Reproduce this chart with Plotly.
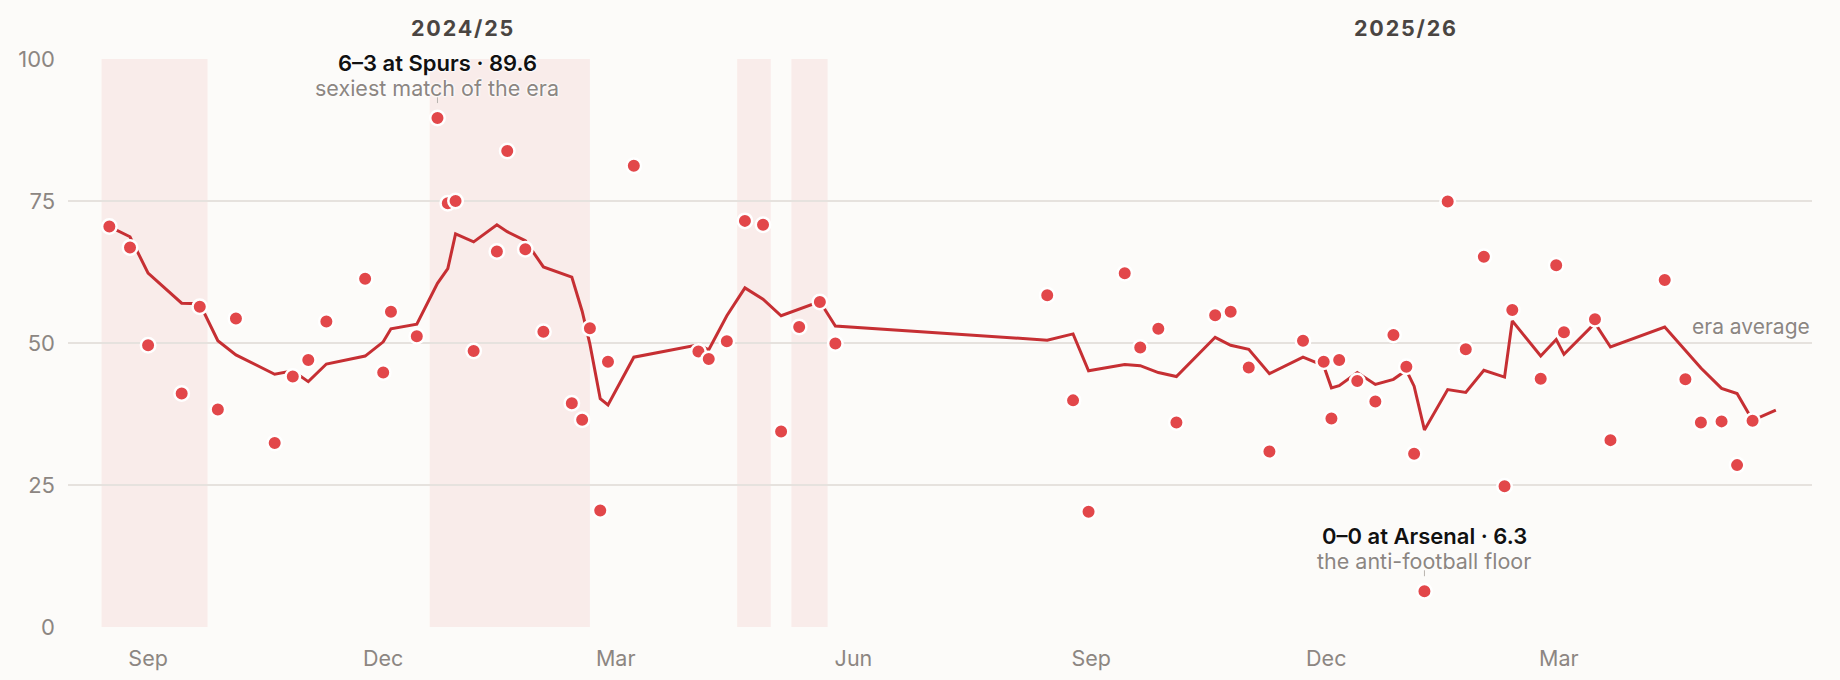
import plotly.graph_objects as go

# ---------------- data ----------------
match_dates = [
    # 2024/25
    "2024-08-17", "2024-08-25", "2024-09-01", "2024-09-14", "2024-09-21", "2024-09-28",
    "2024-10-05", "2024-10-20", "2024-10-27", "2024-11-02", "2024-11-09", "2024-11-24",
    "2024-12-01", "2024-12-04", "2024-12-14", "2024-12-22", "2024-12-26", "2024-12-29",
    "2025-01-05", "2025-01-14", "2025-01-18", "2025-01-25", "2025-02-01", "2025-02-12",
    "2025-02-16", "2025-02-19", "2025-02-23", "2025-02-26", "2025-03-08", "2025-04-02",
    "2025-04-06", "2025-04-13", "2025-04-20", "2025-04-27", "2025-05-04", "2025-05-11",
    "2025-05-19", "2025-05-25",
    # 2025/26
    "2025-08-15", "2025-08-25", "2025-08-31", "2025-09-14", "2025-09-20", "2025-09-27",
    "2025-10-04", "2025-10-19", "2025-10-25", "2025-11-01", "2025-11-09", "2025-11-22",
    "2025-11-30", "2025-12-03", "2025-12-06", "2025-12-13", "2025-12-20", "2025-12-27",
    "2026-01-01", "2026-01-04", "2026-01-08", "2026-01-17", "2026-01-24", "2026-01-31",
    "2026-02-08", "2026-02-11", "2026-02-22", "2026-02-28", "2026-03-03", "2026-03-15",
    "2026-03-21", "2026-04-11", "2026-04-19", "2026-04-25", "2026-05-03", "2026-05-09",
    "2026-05-15",
]
match_scores = [
    70.5, 66.8, 49.6, 41.1, 56.4, 38.3, 54.3, 32.4, 44.1, 47.0, 53.8, 61.3,
    44.8, 55.5, 51.2, 89.6, 74.6, 75.0, 48.6, 66.1, 83.8, 66.5, 52.0, 39.4,
    36.5, 52.6, 20.5, 46.7, 81.2, 48.5, 47.2, 50.3, 71.5, 70.8, 34.4, 52.8,
    57.2, 49.9,
    58.4, 39.9, 20.3, 62.3, 49.2, 52.5, 36.0, 54.9, 55.5, 45.7, 30.9, 50.4,
    46.7, 36.7, 47.0, 43.3, 39.7, 51.4, 45.8, 30.5, 6.3, 74.9, 48.9, 65.2,
    24.8, 55.8, 43.7, 63.7, 51.9, 54.2, 32.9, 61.1, 43.6, 36.0, 36.2, 28.5,
    36.3,
]

trend_dates = match_dates + ["2026-05-24"]
trend_values = [
    70.5, 68.7, 62.3, 57.0, 56.9, 50.4, 47.9, 44.5, 45.1, 43.2, 46.3, 47.7,
    50.2, 52.5, 53.3, 60.5, 63.1, 69.2, 67.8, 70.8, 69.6, 68.0, 63.4, 61.6,
    55.6, 49.8, 40.2, 39.1, 47.5, 49.7, 48.8, 54.8, 59.7, 57.7, 54.8, 56.0,
    57.3, 53.0,
    50.5, 51.6, 45.1, 46.2, 46.0, 44.8, 44.1, 51.0, 49.6, 48.9, 44.6, 47.5,
    46.0, 42.1, 42.5, 44.8, 42.7, 43.6, 45.2, 42.4, 34.7, 41.8, 41.3, 45.2,
    44.0, 53.9, 47.7, 50.6, 48.0, 53.5, 49.3, 52.8, 48.7, 45.6, 42.0, 41.1,
    36.4, 38.2,
]

era_average = 50.0

band_starts = ["2024-08-14", "2024-12-19", "2025-04-17", "2025-05-08"]
band_ends = ["2024-09-24", "2025-02-19", "2025-04-30", "2025-05-22"]

season_labels = ["2024/25", "2025/26"]
season_centres = ["2025-01-01", "2026-01-01"]

x_tick_vals = ["2024-09-01", "2024-12-01", "2025-03-01", "2025-06-01",
               "2025-09-01", "2025-12-01", "2026-03-01"]
x_tick_text = ["Sep", "Dec", "Mar", "Jun", "Sep", "Dec", "Mar"]
y_tick_vals = [0, 25, 50, 75, 100]

highlights = [
    ("2024-12-22", "6–3 at Spurs · 89.6", "sexiest match of the era"),
    ("2026-01-08", "0–0 at Arsenal · 6.3", "the anti-football floor"),
]

# ---------------- style ----------------
BG = "#fcfbf9"
GRID = "#e6e2de"
AVG_LINE = "#c3beb9"
DOT = "#e2474a"
TREND = "#c62f33"
BAND = "#f9ecea"
MUTED = "#8c8682"
FONT = "Inter, Roboto, 'Noto Sans', sans-serif"
HALO = "0 0 2px #ffffff, 0 0 2px #ffffff, 0 0 3px #ffffff, 0 0 3px #ffffff"

fig = go.Figure()

fig.add_trace(go.Scatter(
    x=trend_dates, y=trend_values, mode="lines",
    line=dict(color=TREND, width=3),
    hoverinfo="skip", showlegend=False,
))
fig.add_trace(go.Scatter(
    x=match_dates, y=match_scores, mode="markers",
    marker=dict(color=DOT, size=14.5, line=dict(color="#ffffff", width=2.5)),
    showlegend=False,
))

shapes = []
for s, e in zip(band_starts, band_ends):
    shapes.append(dict(type="rect", xref="x", yref="y", x0=s, x1=e, y0=0, y1=100,
                       fillcolor=BAND, line=dict(width=0), layer="below"))
shapes.append(dict(type="line", xref="paper", yref="y", x0=0, x1=1,
                   y0=era_average, y1=era_average,
                   line=dict(color=AVG_LINE, width=1.6), layer="between"))

annotations = []
for lab, cx in zip(season_labels, season_centres):
    annotations.append(dict(
        x=cx, xref="x", y=1, yref="paper", yanchor="middle", yshift=31,
        text=f"<span style='letter-spacing:1.8px'>{lab}</span>", showarrow=False,
        font=dict(family=FONT, size=21.5, color="#4a4542", weight=700),
    ))

for d, title, sub in highlights:
    v = match_scores[match_dates.index(d)]
    annotations.append(dict(
        x=d, y=v, xref="x", yref="y", yanchor="middle", yshift=55,
        text=title, showarrow=False,
        font=dict(family=FONT, size=22, color="#111111", weight=600, shadow=HALO),
    ))
    annotations.append(dict(
        x=d, y=v, xref="x", yref="y", yanchor="middle", yshift=30,
        text=sub, showarrow=False,
        font=dict(family=FONT, size=21.5, color=MUTED, shadow=HALO),
    ))
    shapes.append(dict(type="line", xref="x", yref="y", x0=d, x1=d,
                       ysizemode="pixel", yanchor=v, y0=15, y1=21,
                       line=dict(color="#b8b3ae", width=1), layer="above"))

annotations.append(dict(
    x=1, xref="paper", y=era_average, yref="y", xanchor="right", yanchor="middle",
    yshift=17, text="era average", showarrow=False,
    font=dict(family=FONT, size=21, color=MUTED, shadow=HALO),
))

fig.update_layout(
    width=1840, height=680,
    margin=dict(l=68, r=28, t=59, b=53, autoexpand=False),
    paper_bgcolor=BG, plot_bgcolor=BG,
    font=dict(family=FONT, size=21, color=MUTED),
    shapes=shapes, annotations=annotations,
    hovermode="closest",
    xaxis=dict(
        type="date", range=["2024-08-01", "2026-06-07"],
        tickmode="array", tickvals=x_tick_vals, ticktext=x_tick_text,
        showgrid=False, zeroline=False, showline=False, ticks="",
        tickfont=dict(family=FONT, size=21.5, color=MUTED),
        ticklabelstandoff=16, automargin=False,
    ),
    yaxis=dict(
        range=[0, 100], tickmode="array", tickvals=y_tick_vals,
        showgrid=True, gridcolor=GRID, gridwidth=1.5,
        zeroline=False, showline=False, ticks="",
        tickfont=dict(family=FONT, size=22, color=MUTED),
        ticklabelstandoff=12, automargin=False,
    ),
)

fig.write_html("out.html")
